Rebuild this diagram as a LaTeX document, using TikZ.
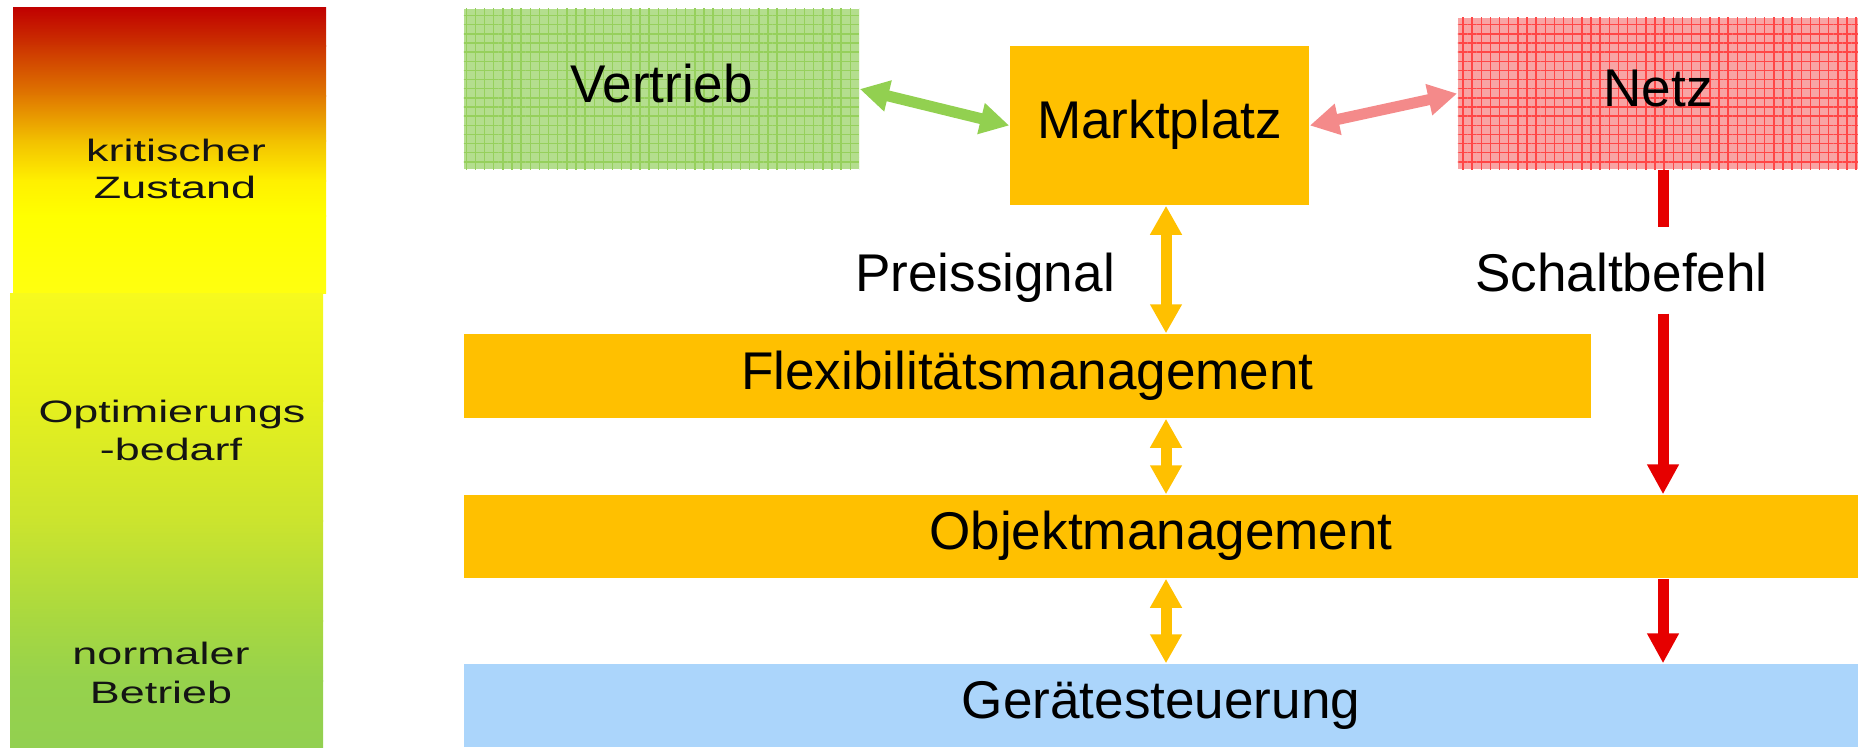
\documentclass[tikz,border=0pt]{standalone}
\usepackage{fontspec}
\setmainfont{Liberation Sans}
\newfontfamily\widesans[FakeStretch=1.45]{Liberation Sans}
\usetikzlibrary{arrows.meta,patterns.meta}

\definecolor{boxorange}{HTML}{FFC000}
\definecolor{boxblue}{HTML}{ABD5FB}
\definecolor{vgreen}{HTML}{B4DE8E}
\definecolor{vgreenline}{HTML}{96D05C}
\definecolor{arrgreen}{HTML}{92D050}
\definecolor{npink}{HTML}{F8A4A4}
\definecolor{npinkline}{HTML}{FF4646}
\definecolor{arrpink}{HTML}{F48A8A}
\definecolor{cmdred}{HTML}{E60000}

\newcommand\diaglarge{\fontsize{15.1}{18}\selectfont}
\newcommand\diagsmall{\widesans\fontsize{8.8}{10}\selectfont}

\tikzset{
  box/.style={rectangle, inner sep=0pt, font=\diaglarge,
    text height=0.76em, text depth=0pt},
  texture/.style={postaction={pattern={Hatch[angle=0,distance=2.6pt,line width=0.4pt]},
    pattern color=#1}},
  lab/.style={inner sep=0pt, font=\diaglarge, anchor=base},
  scalelab/.style={inner sep=0pt, font=\diagsmall, anchor=base, text=black!92},
  dbl/.style={line width=0.11cm,
    arrows={Triangle[length=0.29cm,width=0.3cm]-Triangle[length=0.29cm,width=0.3cm]}},
  single/.style={line width=0.11cm, arrows={-Triangle[length=0.3cm,width=0.3cm]}},
  plain/.style={line width=0.11cm}
}

\begin{document}
\begin{tikzpicture}[x=0.01cm, y=-0.01cm]
\useasboundingbox (0,0) rectangle (1858,747);

% state scale: red - yellow - green
\fill[top color={rgb,255:red,192;green,0;blue,0}, bottom color={rgb,255:red,204;green,51;blue,0}] (13,7) rectangle (326,46);
\fill[top color={rgb,255:red,204;green,51;blue,0}, bottom color={rgb,255:red,224;green,120;blue,0}] (13,45) rectangle (326,96);
\fill[top color={rgb,255:red,224;green,120;blue,0}, bottom color={rgb,255:red,242;green,192;blue,0}] (13,95) rectangle (326,141);
\fill[top color={rgb,255:red,242;green,192;blue,0}, bottom color={rgb,255:red,255;green,240;blue,0}] (13,140) rectangle (326,181);
\fill[top color={rgb,255:red,255;green,240;blue,0}, bottom color={rgb,255:red,255;green,255;blue,0}] (13,180) rectangle (326,216);
\fill[top color={rgb,255:red,255;green,255;blue,0}, bottom color={rgb,255:red,255;green,255;blue,16}] (13,215) rectangle (326,293.5);
\fill[top color={rgb,255:red,247;green,250;blue,30}, bottom color={rgb,255:red,230;green,240;blue,30}] (10,293) rectangle (323,401);
\fill[top color={rgb,255:red,230;green,240;blue,30}, bottom color={rgb,255:red,203;green,228;blue,46}] (10,400) rectangle (323,521);
\fill[top color={rgb,255:red,203;green,228;blue,46}, bottom color={rgb,255:red,168;green,216;blue,64}] (10,520) rectangle (323,621);
\fill[top color={rgb,255:red,168;green,216;blue,64}, bottom color={rgb,255:red,150;green,210;blue,76}] (10,620) rectangle (323,681);
\fill[top color={rgb,255:red,150;green,210;blue,76}, bottom color={rgb,255:red,146;green,208;blue,80}] (10,680) rectangle (323,747);

\node[scalelab] (lk1) at (176,161) {kritischer};
\node[scalelab] (lk2) at (175,198) {Zustand};
\node[scalelab] (lo1) at (172,422) {Optimierungs};
\node[scalelab] (lo2) at (171,460) {-bedarf};
\node[scalelab] (ln1) at (161,664) {normaler};
\node[scalelab] (ln2) at (161,703) {Betrieb};

% columns of the vertical connectors
\coordinate (ycol) at (1166,0);
\coordinate (rcol) at (1663,0);

% layers
\node[box, fill=vgreen, texture=vgreenline, minimum width=3.95cm, minimum height=1.6cm]
  (vertrieb) at (661.5,89) {Vertrieb};
\node[box, fill=boxorange, minimum width=2.99cm, minimum height=1.59cm]
  (markt) at (1159.5,125.5) {Marktplatz};
\node[box, fill=npink, texture=npinkline, minimum width=4.0cm, minimum height=1.51cm]
  (netz) at (1658,93.5) {Netz};
\node[box, fill=boxorange, minimum width=11.27cm, minimum height=0.84cm]
  (flex) at (1027.5,376) {Flexibilitätsmanagement};
\node[box, fill=boxorange, minimum width=13.94cm, minimum height=0.83cm]
  (objekt) at (1161,536.5) {Objektmanagement};
\node[box, fill=boxblue, minimum width=13.94cm, minimum height=0.83cm]
  (geraete) at (1161,705.5) {Gerätesteuerung};

\node[lab] (preis) at (985,291) {Preissignal};
\node[lab, text height=0.41cm, text depth=0pt, inner ysep=0.22cm]
  (sb) at (1621.5,291) {Schaltbefehl};

% connectors
\draw[dbl, arrgreen] (vertrieb.east) -- (markt.west);
\draw[dbl, arrpink] (markt.east) -- (netz.west);

\draw[dbl, boxorange] (markt.south -| ycol) -- (flex.north -| ycol);
\draw[dbl, boxorange] (flex.south -| ycol) -- (objekt.north -| ycol);
\draw[dbl, boxorange] (objekt.south -| ycol) -- (geraete.north -| ycol);

\draw[plain, cmdred] (netz.south -| rcol) -- (sb.north -| rcol);
\draw[single, cmdred] (sb.south -| rcol) -- (objekt.north -| rcol);
\draw[single, cmdred] (objekt.south -| rcol) -- (geraete.north -| rcol);
\end{tikzpicture}
\end{document}
